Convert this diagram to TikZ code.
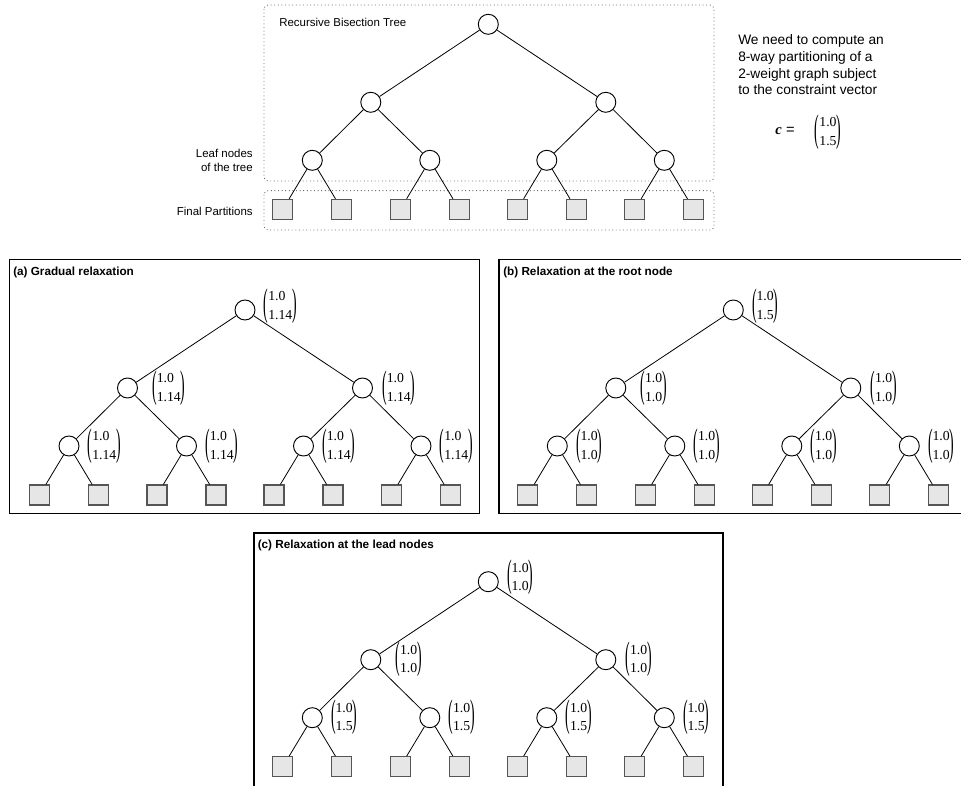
\documentclass[tikz,border=0pt]{standalone}
\usepackage{graphicx}
\usepackage{fontspec}
\setmainfont{Liberation Sans}
\newfontfamily\numfont{Liberation Serif}
\usetikzlibrary{positioning}
\definecolor{partfill}{RGB}{230, 230, 230}
\definecolor{partline}{RGB}{85, 85, 85}
\definecolor{dotline}{RGB}{110, 110, 110}

% constraint vector (1.0, x), tall thin parentheses
\newcommand{\tallparen}[1]{\vcenter{\hbox{\scalebox{1}[2.8]{#1}}}}
\newcommand{\cvec}[2]{\numfont$\tallparen{(}\vcenter{\hbox{\begin{tabular}{@{}l@{}}#1\\#2\end{tabular}}}\tallparen{)}$}

% the bisection tree: #1 name, #2/#3 position of the root
\newcommand{\bistree}[3]{%
  \begin{scope}[shift={(#2,#3)}]
    \node[tnode] (#1) at (0,0) {};
    \node[tnode] (#1-m1) at (-117.5,78) {};
    \node[tnode] (#1-m2) at (117.5,78) {};
    \draw[edge] (#1) -- (#1-m1);
    \draw[edge] (#1) -- (#1-m2);
    \foreach \i/\x/\m in {1/-176/m1,2/-58.5/m1,3/58.5/m2,4/176/m2}{
      \node[tnode] (#1-l\i) at (\x,136) {};
      \node[part] (#1-p\i-a) at (\x-29.5,185) {};
      \node[part] (#1-p\i-b) at (\x+29.5,185) {};
      \draw[edge] (#1-\m) -- (#1-l\i);
      \draw[edge] (#1-l\i) -- (#1-p\i-a);
      \draw[edge] (#1-l\i) -- (#1-p\i-b);
    }
  \end{scope}}

% vectors beside the tree nodes: #2 root, #3 middle level, #4 leaf level
\newcommand{\treevecs}[4]{%
  \node[vec] (#1-v) at ([shift={(8,-4)}]#1.east) {\cvec{1.0}{#2}};
  \node[vec] (#1-m1-v) at ([shift={(14,0)}]#1-m1.east) {\cvec{1.0}{#3}};
  \node[vec] (#1-m2-v) at ([shift={(9,0)}]#1-m2.east) {\cvec{1.0}{#3}};
  \foreach \n in {l1,l2,l3,l4}{
    \node[vec] (#1-\n-v) at ([shift={(8,0)}]#1-\n.east) {\cvec{1.0}{#4}};
  }}

\begin{document}
\begin{tikzpicture}[x=0.75pt, y=-0.75pt,
    tnode/.style={circle, draw=black, fill=white, line width=0.7pt, minimum size=15pt, inner sep=0pt},
    part/.style={rectangle, draw=partline, fill=partfill, line width=0.8pt, minimum size=15pt, inner sep=0pt},
    edge/.style={line width=0.6pt, black},
    vec/.style={anchor=west, inner sep=0pt, font=\fontsize{10.3}{14}\selectfont},
    grp/.style={draw=dotline, dotted, line width=0.7pt, rounded corners=3pt},
    panel/.style={draw=black, line width=0.8pt},
    caption/.style={anchor=west, inner sep=0pt, font=\fontsize{8.8}{10.5}\selectfont\bfseries},
    note/.style={inner sep=0pt, font=\fontsize{8.6}{10.5}\selectfont}
]
    \useasboundingbox (0,0) rectangle (961,786);

    % overview
    \draw[grp] (264,5) rectangle (714,181);
    \draw[grp] (264,190.7) rectangle (714,230);
    \node[note, anchor=west] (rbt-title) at (279,22) {Recursive Bisection Tree};
    \node[note, anchor=east, align=right] (leafnote) at (253,160) {Leaf nodes\\of the tree};
    \node[note, anchor=east] (partnote) at (253,211) {Final Partitions};
    \bistree{rbt}{488.3}{24.3}

    \node[anchor=west, align=left, inner sep=0pt, font=\fontsize{10.3}{12.5}\selectfont] (task) at (738,65)
        {We need to compute an\\8-way partitioning of a\\2-weight graph subject\\to the constraint vector};
    \node[inner sep=0pt, font=\fontsize{11}{14}\selectfont] (cname) at (785,131) {{\numfont\bfseries\itshape c} =};
    \node[inner sep=0pt, font=\fontsize{10.3}{14}\selectfont] (cval) at (828,132) {\cvec{1.0}{1.5}};

    % (a)
    \draw[panel] (9.5,259.5) rectangle (479.5,513.5);
    \node[caption] (ga-title) at (13,272) {(a) Gradual relaxation};
    \bistree{ga}{245}{310}
    \treevecs{ga}{1.14}{1.14}{1.14}

    % (b)
    \draw[panel] (961,259.5) -| (499,513.5) -- (961,513.5);
    \node[caption] (rr-title) at (503,272) {(b) Relaxation at the root node};
    \bistree{rr}{733.3}{310}
    \treevecs{rr}{1.5}{1.0}{1.0}

    % (c)
    \draw[panel] (254,786) |- (723,533) -- (723,786);
    \node[caption] (rl-title) at (257.5,545) {(c) Relaxation at the lead nodes};
    \bistree{rl}{488.3}{581.7}
    \treevecs{rl}{1.0}{1.0}{1.5}
\end{tikzpicture}
\end{document}
